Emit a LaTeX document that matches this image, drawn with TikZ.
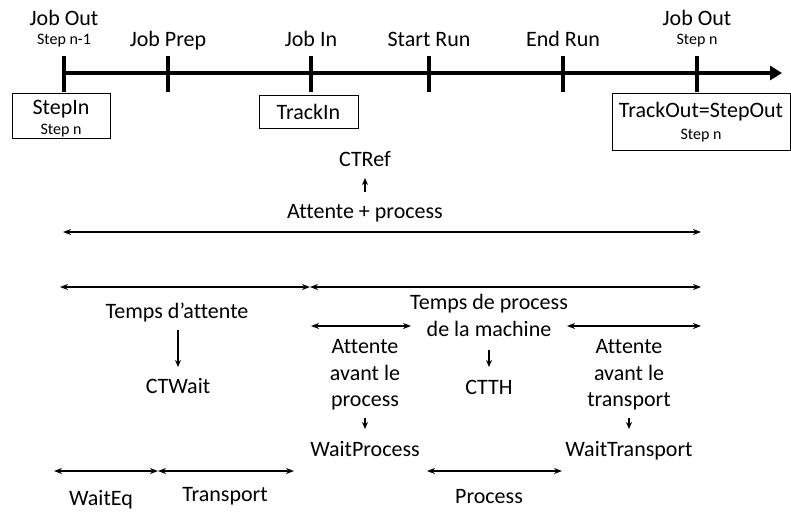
\documentclass[tikz,border=0pt]{standalone}
\usepackage{fontspec}
\setmainfont{Carlito}[Ligatures=NoCommon]
\usetikzlibrary{arrows.meta}
\begin{document}
\begin{tikzpicture}[x=1pt,y=-1pt,
  lbl/.style={inner sep=0pt,anchor=base,font=\fontsize{22}{26}\selectfont},
  sml/.style={inner sep=0pt,anchor=base,font=\fontsize{16}{19}\selectfont},
  tick/.style={line width=3.5pt},
  dbl/.style={line width=1.5pt,{Stealth[length=8pt,width=6pt]}-{Stealth[length=8pt,width=6pt]}},
  down/.style={line width=1.2pt,-{Stealth[length=7pt,width=6pt]}},
  box/.style={draw,line width=0.8pt,inner sep=0pt}]
\useasboundingbox (0,0) rectangle (791,511);
% timeline
\coordinate (t0) at (62,73);
\coordinate (tend) at (782,73);
\draw[line width=3.5pt,-{Triangle[length=12pt,width=14pt]}] (t0) -- (tend);
\foreach \n/\x in {a/64,b/168,c/311,d/429,e/563,f/697}{
  \coordinate (\n top) at (\x,56);
  \coordinate (\n bot) at (\x,92);
  \draw[tick] (\n top) -- (\n bot);
}
% top labels
\node[lbl] (jo1) at (64,26) {Job Out};
\node[sml] (sn1) at (64,45) {Step n-1};
\node[lbl] (jp) at (168,46) {Job Prep};
\node[lbl] (ji) at (311,46) {Job In};
\node[lbl] (sr) at (429,46) {Start Run};
\node[lbl] (er) at (563,46) {End Run};
\node[lbl] (jo2) at (697,26) {Job Out};
\node[sml] (sn2) at (697,45) {Step n};
% boxes
\node[box,minimum width=98pt,minimum height=45pt] (stepin) at (61,115.5) {};
\node[lbl] (stepinT) at (61,114) {StepIn};
\node[sml] (stepinS) at (61,134) {Step n};
\node[box,minimum width=99pt,minimum height=33pt] (trackin) at (308.5,111.5) {};
\node[lbl] (trackinT) at (308.5,119) {TrackIn};
\node[box,minimum width=178pt,minimum height=57pt] (trackout) at (701,121.5) {};
\node[lbl] (trackoutT) at (701,117) {TrackOut=StepOut};
\node[sml] (trackoutS) at (701,139) {Step n};
% CTRef
\node[lbl] (ctref) at (365,166) {CTRef};
\node[lbl] (ap) at (365,218) {Attente + process};
\coordinate (ctrefArrowA) at (365,192);
\coordinate (ctrefArrowB) at (365,178);
\draw[down] (ctrefArrowA) -- (ctrefArrowB);
\coordinate (A1) at (63,232);
\coordinate (A2) at (701,232);
\draw[dbl] (A1) -- (A2);
% row 2
\coordinate (B1) at (60,287);
\coordinate (B2) at (310,287);
\coordinate (B3) at (310,287);
\coordinate (B4) at (701,287);
\draw[dbl] (B1) -- (B2);
\draw[dbl] (B3) -- (B4);
\node[lbl] (ta) at (177,318) {Temps d’attente};
\node[lbl] (ctwait) at (178,393) {CTWait};
\coordinate (waA) at (178,330);
\coordinate (waB) at (178,367);
\draw[down] (waA) -- (waB);
\node[lbl] (tp1) at (489,309) {Temps de process};
\node[lbl] (tp2) at (489,336) {de la machine};
\node[lbl] (ctth) at (489,394) {CTTH};
\coordinate (thA) at (489,350);
\coordinate (thB) at (489,367);
\draw[down] (thA) -- (thB);
% row 3
\coordinate (C1) at (311,326);
\coordinate (C2) at (411,326);
\coordinate (C3) at (567,326);
\coordinate (C4) at (701,326);
\draw[dbl] (C1) -- (C2);
\draw[dbl] (C3) -- (C4);
\node[lbl] (awp1) at (365,353) {Attente};
\node[lbl] (awp2) at (365,380) {avant le};
\node[lbl] (awp3) at (365,406) {process};
\node[lbl] (wp) at (365,456) {WaitProcess};
\coordinate (wpA) at (365,418);
\coordinate (wpB) at (365,429);
\draw[down] (wpA) -- (wpB);
\node[lbl] (awt1) at (629,353) {Attente};
\node[lbl] (awt2) at (629,380) {avant le};
\node[lbl] (awt3) at (629,406) {transport};
\node[lbl] (wt) at (629,456) {WaitTransport};
\coordinate (wtA) at (629,418);
\coordinate (wtB) at (629,429);
\draw[down] (wtA) -- (wtB);
% bottom
\coordinate (D1) at (54,471);
\coordinate (D2) at (158,471);
\coordinate (D3) at (158,471);
\coordinate (D4) at (294,471);
\coordinate (D5) at (427,471);
\coordinate (D6) at (562,471);
\draw[dbl] (D1) -- (D2);
\draw[dbl] (D3) -- (D4);
\draw[dbl] (D5) -- (D6);
\node[lbl] (weq) at (101,505) {WaitEq};
\node[lbl] (tr) at (225,501) {Transport};
\node[lbl] (pr) at (489,503) {Process};
\end{tikzpicture}
\end{document}
